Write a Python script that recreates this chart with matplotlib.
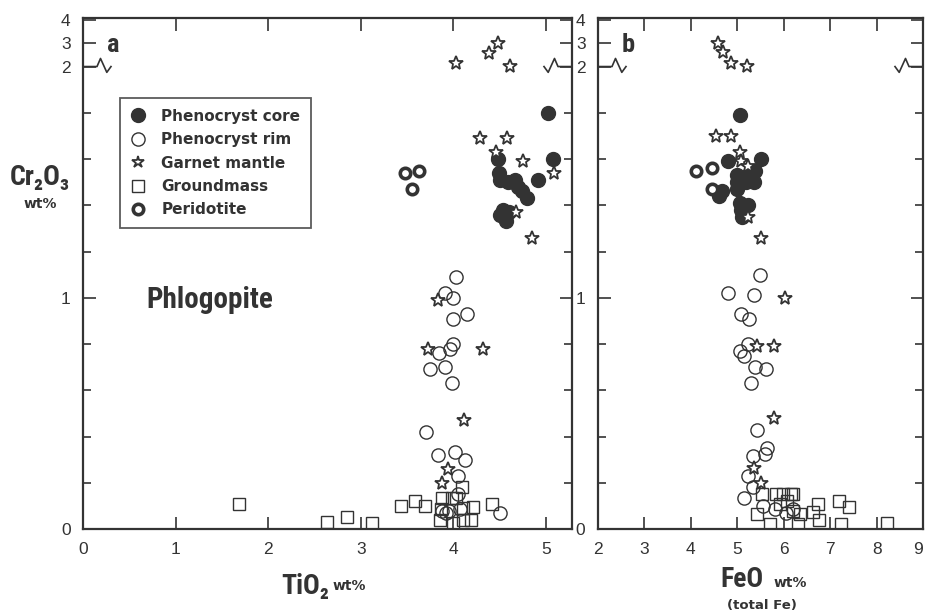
import numpy as np
import matplotlib
matplotlib.use("Agg")
import matplotlib.pyplot as plt
from matplotlib.lines import Line2D

HEAVY = ["Roboto Condensed", "Roboto", "DejaVu Sans"]
WIDE = ["DejaVu Sans"]
plt.rcParams["font.family"] = HEAVY

INK = "#333333"

# ---- panel a: TiO2 vs Cr2O3 (wt%) ----
a_core_x = [5.02, 5.07, 4.91, 4.48, 4.49, 4.50, 4.59, 4.66, 4.70, 4.74, 4.79, 4.53, 4.60, 4.57, 4.50]
a_core_y = [1.80, 1.60, 1.51, 1.60, 1.54, 1.51, 1.50, 1.51, 1.48, 1.46, 1.43, 1.38, 1.37, 1.33, 1.36]

a_rim_x = [4.03, 3.91, 4.00, 3.99, 4.15, 4.00, 3.96, 3.84, 3.75, 3.91, 3.98, 3.70, 3.83, 4.02,
           4.13, 4.05, 4.50, 4.07, 4.05, 3.88, 3.92, 3.95]
a_rim_y = [1.09, 1.02, 1.00, 0.91, 0.93, 0.80, 0.78, 0.76, 0.69, 0.70, 0.63, 0.42, 0.32, 0.335,
           0.30, 0.23, 0.07, 0.087, 0.15, 0.08, 0.07, 0.08]

a_garnet_x = [4.03, 4.38, 4.48, 4.61, 4.29, 4.58, 4.46, 4.75, 5.09, 4.85, 4.68, 3.83, 3.72, 4.32,
              4.11, 3.94, 3.88]
a_garnet_y = [2.17, 2.57, 3.04, 2.04, 1.69, 1.69, 1.63, 1.59, 1.54, 1.26, 1.37, 0.99, 0.78, 0.78,
              0.47, 0.26, 0.20]

a_ground_x = [1.68, 2.63, 2.85, 3.12, 3.43, 3.59, 3.69, 4.42, 4.21, 4.19, 3.85, 3.99, 4.10, 3.88,
              3.98, 4.09, 4.03, 3.87, 4.10]
a_ground_y = [0.11, 0.03, 0.05, 0.025, 0.10, 0.12, 0.10, 0.11, 0.095, 0.04, 0.04, 0.025, 0.04, 0.135,
              0.135, 0.18, 0.135, 0.087, 0.09]

a_perid_x = [3.48, 3.63, 3.55]
a_perid_y = [1.54, 1.55, 1.47]

# ---- panel b: FeO (total Fe) vs Cr2O3 (wt%) ----
b_core_x = [5.05, 4.81, 5.52, 5.00, 5.00, 5.00, 5.22, 5.39, 5.35, 5.18, 4.68, 4.61, 5.05, 5.24,
            5.11, 5.08]
b_core_y = [1.79, 1.59, 1.60, 1.53, 1.50, 1.47, 1.53, 1.55, 1.50, 1.50, 1.46, 1.44, 1.41, 1.40,
            1.35, 1.38]

b_rim_x = [5.48, 4.81, 5.35, 5.07, 5.26, 5.22, 5.05, 5.15, 5.39, 5.61, 5.30, 5.43, 5.65, 5.59,
           5.33, 5.24, 5.33, 5.15, 5.56, 5.82, 6.04, 6.21]
b_rim_y = [1.10, 1.02, 1.01, 0.93, 0.91, 0.80, 0.77, 0.75, 0.70, 0.69, 0.63, 0.43, 0.35, 0.325,
           0.315, 0.23, 0.18, 0.135, 0.10, 0.087, 0.07, 0.087]

b_garnet_x = [4.59, 4.70, 4.87, 5.20, 4.55, 4.87, 5.05, 5.07, 5.22, 5.24, 5.50, 6.02, 5.43, 5.78,
              5.78, 5.37, 5.52]
b_garnet_y = [3.00, 2.61, 2.17, 2.03, 1.70, 1.70, 1.63, 1.59, 1.57, 1.35, 1.26, 1.00, 0.79, 0.79,
              0.48, 0.265, 0.20]

b_ground_x = [5.54, 5.84, 5.99, 6.15, 6.21, 6.06, 5.43, 5.71, 6.30, 6.34, 6.62, 6.73, 6.75, 7.18,
              7.40, 7.23, 8.22, 6.21, 5.93]
b_ground_y = [0.15, 0.15, 0.15, 0.15, 0.15, 0.12, 0.063, 0.02, 0.02, 0.065, 0.075, 0.11, 0.04, 0.12,
              0.095, 0.02, 0.025, 0.08, 0.11]

b_perid_x = [4.12, 4.46, 4.46]
b_perid_y = [1.55, 1.56, 1.47]

y_tick_vals = [0, 1, 2, 3, 4]
y_tick_labels = ["0", "1", "2", "3", "4"]
legend_labels = ["Phenocryst core", "Phenocryst rim", "Garnet mantle", "Groundmass", "Peridotite"]


def brk(v):
    # broken axis: linear to 2 wt%, compressed 10x above
    v = np.asarray(v, dtype=float)
    return np.where(v <= 2, v, 2 + (v - 2) * 0.1)


styles = {
    "core": dict(marker="o", ms=10, mfc=INK, mec=INK, mew=1.0, ls="none"),
    "rim": dict(marker="o", ms=9.5, mfc="none", mec=INK, mew=1.0, ls="none"),
    "garnet": dict(marker="*", ms=10.5, mfc="white", mec=INK, mew=1.3, ls="none"),
    "ground": dict(marker="s", ms=8.5, mfc="none", mec=INK, mew=1.0, ls="none"),
    "perid": dict(marker="o", ms=7.5, mfc="white", mec=INK, mew=2.6, ls="none"),
}

W, H = 926, 614
fig = plt.figure(figsize=(W / 100, H / 100), dpi=100)
ax_a = fig.add_axes([83 / W, 1 - 529 / H, 489 / W, 511 / H])
ax_b = fig.add_axes([598 / W, 1 - 529 / H, 325 / W, 511 / H])

tick_font = dict(family=["Liberation Sans", "DejaVu Sans"], size=12.5)


def draw(ax, sets):
    ground, rim, core, perid, garnet = sets
    ax.plot(ground[0], brk(ground[1]), **styles["ground"])
    ax.plot(rim[0], brk(rim[1]), **styles["rim"])
    ax.plot(core[0], brk(core[1]), **styles["core"])
    ax.plot(perid[0], brk(perid[1]), **styles["perid"])
    ax.plot(garnet[0], brk(garnet[1]), **styles["garnet"])

    ax.set_ylim(0, 2.21)
    ax.set_yticks(brk(y_tick_vals))
    ax.set_yticks(np.arange(0.2, 1.9, 0.2), minor=True)
    ax.tick_params(which="both", direction="in", top=True, right=True, width=1.2, colors=INK)
    ax.tick_params(which="major", length=9, pad=9)
    ax.tick_params(which="minor", length=6)
    for sp in ax.spines.values():
        sp.set_linewidth(1.6)
        sp.set_color(INK)
    # axis break squiggles at 2 wt%
    t = ax.get_yaxis_transform()
    dx = 14 / (ax.get_position().width * W)
    zx = np.array([0, 1.0, 1.25, 1.7, 2.0]) * dx
    zy = np.array([2.0, 2.0, 2.035, 1.975, 2.0])
    ax.plot(zx, zy, color=INK, lw=1.2, transform=t, clip_on=False)
    ax.plot(1 - zx, zy, color=INK, lw=1.2, transform=t, clip_on=False)


draw(ax_a, [(a_ground_x, a_ground_y), (a_rim_x, a_rim_y), (a_core_x, a_core_y),
            (a_perid_x, a_perid_y), (a_garnet_x, a_garnet_y)])
draw(ax_b, [(b_ground_x, b_ground_y), (b_rim_x, b_rim_y), (b_core_x, b_core_y),
            (b_perid_x, b_perid_y), (b_garnet_x, b_garnet_y)])

ax_a.set_xlim(0, 5.28)
ax_a.set_xticks([0, 1, 2, 3, 4, 5])
ax_a.set_xticklabels(["0", "1", "2", "3", "4", "5"], fontdict=tick_font)
ax_a.set_yticklabels(y_tick_labels, fontdict=tick_font)

ax_b.set_xlim(2, 9)
ax_b.set_xticks(range(2, 10))
ax_b.set_xticklabels([str(v) for v in range(2, 10)], fontdict=tick_font)
ax_b.set_yticklabels(y_tick_labels, fontdict=tick_font)
ax_b.get_xticklabels()[-1].set_ha("right")

# legend
handles = [Line2D([], [], **styles[k]) for k in ["core", "rim", "garnet", "ground", "perid"]]
handles[2] = Line2D([], [], **dict(styles["garnet"], ms=9))
leg = ax_a.legend(handles, legend_labels, loc="upper left",
                  bbox_to_anchor=((120 - 83) / 489, (529 - 98) / 511), borderaxespad=0,
                  frameon=True, fancybox=False, edgecolor=INK, handlelength=1.0,
                  handletextpad=1.0, labelspacing=0.55, borderpad=0.7,
                  prop=dict(family=WIDE, weight="bold", size=11))
leg.get_frame().set_linewidth(1.3)
for txt in leg.get_texts():
    txt.set_color(INK)


def ftext(px, py, s, **kw):
    kw.setdefault("color", INK)
    kw.setdefault("fontweight", "black")
    kw.setdefault("family", HEAVY)
    fig.text(px / W, 1 - py / H, s, **kw)


ftext(113, 45, "a", fontsize=19, ha="center", va="center")
ftext(628, 45, "b", fontsize=19, ha="center", va="center")
ftext(210, 300, "Phlogopite", fontsize=21, ha="center", va="center")

ftext(40, 178, "Cr₂O₃", fontsize=20, ha="center", va="center")
ftext(40, 204, "wt%", fontsize=10, ha="center", va="center", family=WIDE, fontweight="bold")

ftext(329, 594, "TiO₂", fontsize=20, ha="right", va="baseline")
ftext(333, 590, "wt%", fontsize=10, ha="left", va="baseline", family=WIDE, fontweight="bold")

ftext(764, 587, "FeO", fontsize=20, ha="right", va="baseline")
ftext(774, 587, "wt%", fontsize=10, ha="left", va="baseline", family=WIDE, fontweight="bold")
ftext(762, 609, "(total Fe)", fontsize=9.5, ha="center", va="baseline", family=WIDE, fontweight="bold")

fig.savefig("out.png", dpi=100)
